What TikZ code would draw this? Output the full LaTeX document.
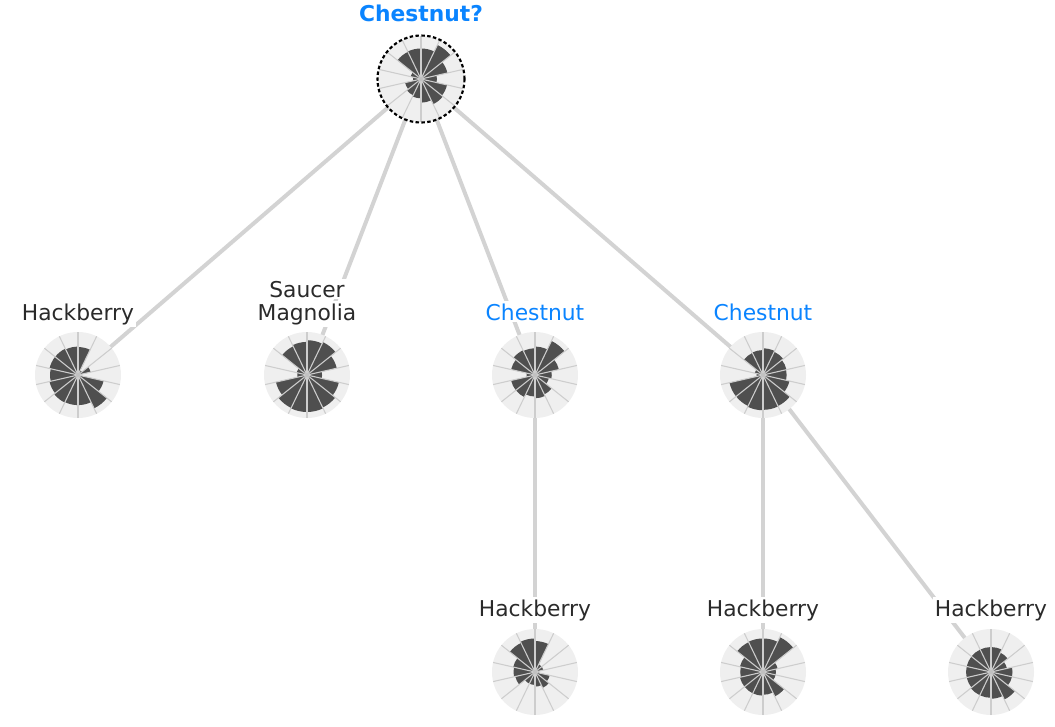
\documentclass[tikz,border=0pt]{standalone}
\usepackage{fontspec}
\setmainfont{DejaVu Sans}
\definecolor{bgc}{HTML}{EFEFEF}
\definecolor{barc}{HTML}{4F4F4F}
\definecolor{spokec}{HTML}{CDCDCD}
\definecolor{edgec}{HTML}{D3D3D3}
\definecolor{bluec}{HTML}{0A84FF}
\definecolor{textc}{HTML}{2A2A2A}
\newcommand{\polarchart}[3]{%
  \fill[bgc] (#1,#2) circle[radius=43];
  \foreach \r [count=\i from 0] in {#3} {
    \pgfmathsetmacro\aa{90-\i*360/14}
    \pgfmathsetmacro\bb{90-(\i+1)*360/14}
    \fill[barc] (#1,#2) -- ++(\aa:\r*43) arc[start angle=\aa, end angle=\bb, radius=\r*43] -- cycle;
  }
  \foreach \i in {0,...,13} {\draw[spokec, line width=0.8] (#1,#2) -- ++({90-\i*360/14}:43);}
  \fill[spokec!85!gray] (#1,#2) circle[radius=2];
}
\tikzset{
  edge/.style={edgec, line width=3pt},
  lbl/.style={font=\fontsize{16.35}{21}\selectfont, text=textc, anchor=base, fill=white, inner xsep=1.5pt, inner ysep=1.5pt},
  lblblue/.style={lbl, text=bluec},
  chart/.style={circle, minimum size=64.5pt, inner sep=0pt},
}
\begin{document}
\begin{tikzpicture}[x=0.75pt,y=0.75pt]
\useasboundingbox (0,0) rectangle (1055,-726);
% chart anchors
\node[chart] (top) at (421,-79) {};
\node[chart] (h1) at (78,-375) {};
\node[chart] (sm) at (307,-375) {};
\node[chart] (c1) at (535,-375) {};
\node[chart] (c2) at (763,-375) {};
\node[chart] (h2) at (535,-672) {};
\node[chart] (h3) at (763,-672) {};
\node[chart] (h4) at (991,-672) {};
% edges
\draw[edge] (top.center) -- (h1.center);
\draw[edge] (top.center) -- (sm.center);
\draw[edge] (top.center) -- (c1.center);
\draw[edge] (top.center) -- (c2.center);
\draw[edge] (c1.center) -- (h2.center);
\draw[edge] (c2.center) -- (h3.center);
\draw[edge] (c2.center) -- (h4.center);
% charts
\polarchart{421}{-79}{0.71,0.88,0.63,0.37,0.62,0.65,0.55,0.45,0.42,0.38,0.19,0.25,0.70,0.71}
\polarchart{78}{-375}{0.65,0.12,0.30,0.05,0.61,0.86,0.70,0.70,0.71,0.68,0.65,0.68,0.68,0.66}
\polarchart{307}{-375}{0.81,0.85,0.71,0.35,0.76,0.84,0.86,0.86,0.85,0.74,0.23,0.25,0.74,0.77}
\polarchart{535}{-375}{0.66,0.88,0.57,0.39,0.33,0.50,0.54,0.50,0.57,0.57,0.20,0.57,0.64,0.62}
\polarchart{763}{-375}{0.62,0.60,0.56,0.55,0.63,0.80,0.81,0.82,0.80,0.80,0.15,0.20,0.57,0.58}
\polarchart{535}{-672}{0.72,0.20,0.20,0.10,0.35,0.41,0.34,0.30,0.30,0.47,0.50,0.52,0.75,0.78}
\polarchart{763}{-672}{0.78,0.90,0.35,0.30,0.30,0.63,0.53,0.55,0.55,0.55,0.53,0.55,0.77,0.78}
\polarchart{991}{-672}{0.58,0.50,0.38,0.50,0.50,0.71,0.62,0.60,0.60,0.58,0.58,0.58,0.58,0.58}
% dashed ring
\draw[black, line width=1.6pt, dash pattern=on 2.6pt off 1.8pt] (top.center) circle[radius=43.5];
% labels
\node[lblblue, font=\fontsize{16.35}{21}\selectfont\bfseries] (ltop) at (421,-21) {Chestnut?};
\node[lbl] (lh1) at (78,-320) {Hackberry};
\node[lbl] (lsm1) at (307,-297) {Saucer};
\node[lbl] (lsm2) at (307,-320) {Magnolia};
\node[lblblue] (lc1) at (535,-320) {Chestnut};
\node[lblblue] (lc2) at (763,-320) {Chestnut};
\node[lbl] (lh2) at (535,-616) {Hackberry};
\node[lbl] (lh3) at (763,-616) {Hackberry};
\node[lbl] (lh4) at (991,-616) {Hackberry};
\end{tikzpicture}
\end{document}
